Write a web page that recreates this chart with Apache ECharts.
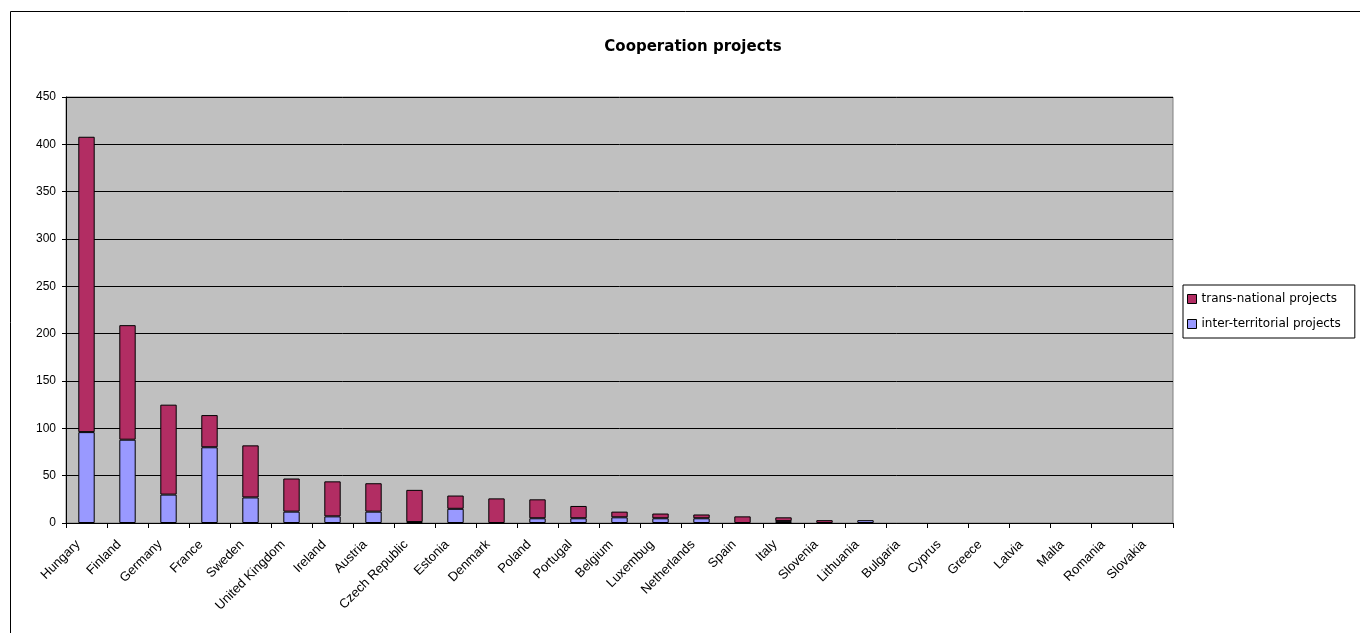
<!DOCTYPE html>
<html><head><meta charset="utf-8">
<script src="https://cdn.jsdelivr.net/npm/echarts@6/dist/echarts.min.js"></script>
<style>html,body{margin:0;padding:0;background:#fff;}#c{width:1360px;height:633px;}</style>
</head><body><div id="c"></div>
<script>
const categories = ["Hungary","Finland","Germany","France","Sweden","United Kingdom","Ireland","Austria","Czech Republic","Estonia","Denmark","Poland","Portugal","Belgium","Luxembug","Netherlands","Spain","Italy","Slovenia","Lithuania","Bulgaria","Cyprus","Greece","Latvia","Malta","Romania","Slovakia"];
const interTerritorial = [96,88,30,80,27,12,7,12,1,15,0,5,5,6,5,5,0,2,0,3,0,0,0,0,0,0,0];
const transNational   = [312,121,95,34,55,35,37,30,34,14,26,20,13,6,5,4,7,4,3,0,0,0,0,0,0,0,0];
const yTicks = [0,50,100,150,200,250,300,350,400,450];

const nz = arr => arr.map(v => v === 0 ? null : v);
const chart = echarts.init(document.getElementById('c'));
const font = 'Liberation Sans, Arial, sans-serif';
chart.setOption({
  animation:false,
  backgroundColor:'#fff',
  graphic:[{type:'rect',shape:{x:10.5,y:11.5,width:1400,height:700},style:{fill:'none',stroke:'#000',lineWidth:1},z:-1}],
  title:{text:'Cooperation projects',left:688,top:35,textAlign:'center',
    textStyle:{fontFamily:'DejaVu Sans, sans-serif',fontSize:15,fontWeight:'bold',color:'#000'}},
  legend:{orient:'vertical',left:1183,top:285,data:['trans-national projects','inter-territorial projects'],
    itemWidth:9,itemHeight:9,itemGap:13,borderColor:'#000',borderWidth:1,padding:[8,14,8,4],
    textStyle:{fontFamily:'DejaVu Sans, sans-serif',fontSize:12,color:'#000'},
    icon:'rect',itemStyle:{borderColor:'#000',borderWidth:1}},
  grid:{left:66,right:187,top:97,bottom:110,show:true,backgroundColor:'#c0c0c0',borderColor:'#808080',borderWidth:1},
  xAxis:{type:'category',data:categories,
    axisLine:{lineStyle:{color:'#000'}},
    axisTick:{show:true,interval:0,length:5,lineStyle:{color:'#000'}},
    axisLabel:{interval:0,rotate:45,margin:11,padding:[0,12,0,0],fontFamily:font,fontSize:13,color:'#000'}},
  yAxis:{type:'value',min:0,max:450,interval:50,
    axisLine:{show:true,lineStyle:{color:'#000'}},
    axisTick:{show:true,length:4,lineStyle:{color:'#000'}},
    splitLine:{lineStyle:{color:'#000',width:1}},
    axisLabel:{fontFamily:font,fontSize:12,color:'#000',margin:10,
      formatter:v=>yTicks.includes(v)?String(v):''}},
  series:[
    {name:'inter-territorial projects',type:'bar',stack:'a',data:nz(interTerritorial),barWidth:'40%',
      itemStyle:{color:'#9999ff',borderColor:'#000',borderWidth:1}},
    {name:'trans-national projects',type:'bar',stack:'a',data:nz(transNational),barWidth:'40%',
      itemStyle:{color:'#b22d63',borderColor:'#000',borderWidth:1}}
  ]
});
</script></body></html>
